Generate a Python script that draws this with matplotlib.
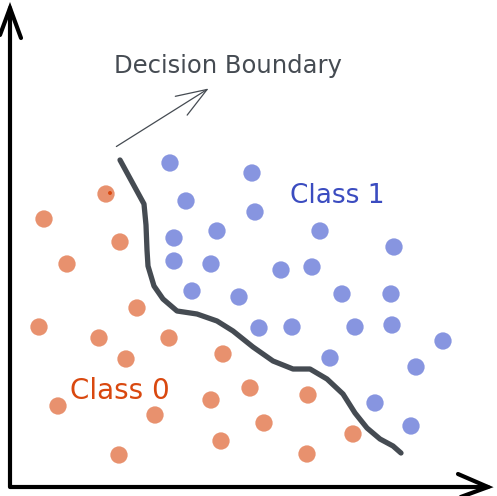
import matplotlib
matplotlib.use('Agg')
import matplotlib.pyplot as plt

# feature values, origin at the corner of the drawn axes
class0_x = [9.6, 3.4, 11.0, 5.7, 12.7, 2.9, 8.9, 15.9, 11.6, 21.3,
            24.0, 4.8, 14.5, 20.1, 29.8, 25.4, 21.1, 34.3, 10.9, 29.7]
class0_y = [29.3, 26.8, 24.5, 22.3, 17.9, 16.0, 14.9, 14.9, 12.8, 13.3,
            9.9, 8.1, 7.2, 8.7, 9.2, 6.4, 4.6, 5.3, 3.2, 3.3]

class1_x = [16.0, 24.2, 17.6, 24.5, 16.4, 20.7, 31.0, 38.4, 16.4, 20.1,
            27.1, 30.2, 18.2, 22.9, 33.2, 38.1, 24.9, 28.2, 34.5, 38.2,
            43.3, 32.0, 40.6, 36.5, 40.1]
class1_y = [32.4, 31.4, 28.6, 27.5, 24.9, 25.6, 25.6, 24.0, 22.6, 22.3,
            21.7, 22.0, 19.6, 19.0, 19.3, 19.3, 15.9, 16.0, 16.0, 16.2,
            14.6, 12.9, 12.0, 8.4, 6.1]

# small mark inside one of the class 0 points
marked_x = [10.0]
marked_y = [29.4]

boundary_x = [11.0, 12.2, 13.4, 13.6, 13.7, 13.8, 14.4, 15.3, 16.7, 18.7,
              20.7, 22.3, 24.3, 26.3, 28.3, 30.0, 31.7, 33.3, 34.5,
              35.7, 37.0, 38.3, 39.1]
boundary_y = [32.7, 30.5, 28.3, 26.2, 23.7, 22.1, 20.1, 18.8, 17.6, 17.3,
              16.6, 15.6, 14.0, 12.6, 11.8, 11.8, 10.8, 9.3, 7.4,
              5.9, 4.8, 4.1, 3.4]

ORANGE = '#e8916e'
BLUE = '#8795e0'
GREY = '#454b52'

fig = plt.figure(figsize=(4.97, 4.96), dpi=100)
ax = fig.add_axes([0, 0, 1, 1])
ax.set_xlim(-1.0, 48.7)
ax.set_ylim(-0.9, 48.7)
ax.axis('off')

# hand drawn axes with open arrow heads
ax.plot([0, 0, 47.8], [47.9, 0, 0], color='black', lw=3,
        solid_joinstyle='round', solid_capstyle='round')
ax.plot([-1.0, 0, 1.1], [45.2, 47.9, 44.9], color='black', lw=3,
        solid_joinstyle='miter', solid_capstyle='round')
ax.plot([44.8, 47.8, 44.8], [1.3, 0, -1.1], color='black', lw=3,
        solid_joinstyle='miter', solid_capstyle='round')

ax.scatter(class0_x, class0_y, s=155, color=ORANGE, edgecolors='none', zorder=3)
ax.scatter(class1_x, class1_y, s=155, color=BLUE, edgecolors='none', zorder=3)
ax.scatter(marked_x, marked_y, s=8, color='#d9480f', edgecolors='none', zorder=4)

ax.plot(boundary_x, boundary_y, color=GREY, lw=3.8,
        solid_capstyle='round', solid_joinstyle='round', zorder=2)

ax.annotate('', xy=(20.1, 40.0), xytext=(10.4, 33.9),
            arrowprops=dict(arrowstyle='->,head_length=1.1,head_width=0.4',
                            mutation_scale=20, color=GREY, lw=0.9))

ax.text(21.8, 41.4, 'Decision Boundary', color=GREY, fontsize=17.5,
        ha='center', va='baseline', family='DejaVu Sans')
ax.text(32.7, 28.4, 'Class 1', color='#3b4cc0', fontsize=19,
        ha='center', va='baseline', family='DejaVu Sans')
ax.text(11.0, 8.8, 'Class 0', color='#d9480f', fontsize=20,
        ha='center', va='baseline', family='DejaVu Sans')

fig.savefig('out.png', dpi=100)
